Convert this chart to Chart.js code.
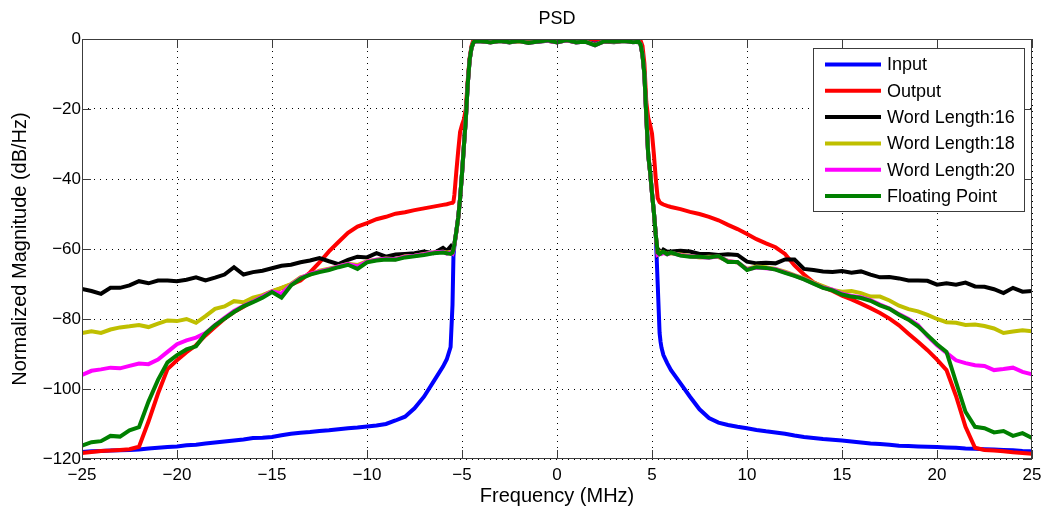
<!DOCTYPE html>
<html>
<head>
<meta charset="utf-8">
<title>PSD</title>
<script src="https://cdn.jsdelivr.net/npm/chart.js@4.4.1/dist/chart.umd.min.js"></script>
<style>
  html, body { margin: 0; padding: 0; background: #fff; }
  canvas { display: block; }
</style>
</head>
<body>
<canvas id="psdChart" width="1049" height="510"></canvas>
<script>
// PSD of the filter chain: input, output and the fixed point word lengths

// frequency grid (MHz): coarse in the stop bands, finer around the band edges
const freq = [
  -25, -24.5, -24, -23.5, -23, -22.5, -22, -21.5, -21, -20.5, -20, -19.5, -19, -18.5, -18, -17.5, -17, -16.5, -16, -15.5,
  -15, -14.5, -14, -13.5, -13, -12.5, -12, -11.5, -11, -10.5, -10, -9.5, -9, -8.5, -8, -7.5, -7, -6.5, -6,
  -5.8, -5.6, -5.5, -5.45, -5.4, -5.3, -5.2, -5.1, -5, -4.9, -4.8, -4.7, -4.6, -4.5, -4.4, -4.3,
  -4, -3.5, -3, -2.5, -2, -1.5, -1, -0.5, 0, 0.5, 1, 1.5, 2, 2.5, 3, 3.5, 4,
  4.3, 4.4, 4.5, 4.6, 4.7, 4.8, 4.9, 5, 5.1, 5.2, 5.3, 5.4, 5.45, 5.5, 5.6, 5.8,
  6, 6.5, 7, 7.5, 8, 8.5, 9, 9.5, 10, 10.5, 11, 11.5, 12, 12.5, 13, 13.5, 14, 14.5, 15, 15.5,
  16, 16.5, 17, 17.5, 18, 18.5, 19, 19.5, 20, 20.5, 21, 21.5, 22, 22.5, 23, 23.5, 24, 24.5, 25
];

// values in dB/Hz, same order as freq
const inputPsd = [
  -118.0, -117.8, -117.7, -117.6, -117.5, -117.4, -117.3, -117.0, -116.8, -116.6, -116.4, -116.1, -115.9, -115.6, -115.3, -115.0, -114.7, -114.4, -114.0, -113.9,
  -113.7, -113.2, -112.8, -112.5, -112.3, -112.0, -111.8, -111.5, -111.2, -111.0, -110.7, -110.4, -110.0, -109.0, -107.9, -105.5, -102.2, -97.9, -93.6,
  -91.5, -88.0, -76.0, -62.0, -59.0, -55.0, -51.0, -45.5, -38.5, -30.5, -23.0, -13.0, -6.0, -2.5, -1.0, -0.6,
  -0.5, -0.7, -0.6, -0.8, -0.5, -0.9, -0.6, -0.5, -0.8, -0.4, -0.7, -0.6, -1.2, -0.5, -0.7, -0.6, -0.8,
  -0.6, -1.5, -4.5, -10.0, -22.0, -33.0, -38.0, -44.0, -49.5, -56.0, -70.0, -84.0, -86.5, -88.2, -90.3, -92.6,
  -94.6, -98.4, -102.2, -105.8, -108.3, -109.6, -110.3, -110.8, -111.2, -111.7, -112.1, -112.4, -112.8, -113.3, -113.7, -114.0, -114.3, -114.5, -114.7, -115.0,
  -115.3, -115.6, -115.7, -115.9, -116.2, -116.3, -116.4, -116.5, -116.6, -116.7, -116.8, -117.0, -117.1, -117.2, -117.3, -117.4, -117.5, -117.7, -117.8
];
const outputPsd = [
  -118.3, -118.0, -117.7, -117.6, -117.4, -117.2, -116.5, -109.3, -101.3, -94.3, -91.8, -89.5, -87.5, -84.7, -82.3, -79.9, -78.0, -76.5, -74.7, -73.3,
  -72.2, -71.2, -70.2, -69.0, -66.7, -63.8, -60.7, -58.0, -55.4, -53.6, -52.6, -51.5, -50.8, -49.9, -49.5, -48.9, -48.4, -47.9, -47.4,
  -47.2, -46.9, -46.8, -46.5, -44.5, -38.0, -32.0, -26.5, -24.5, -23.0, -20.0, -12.0, -5.5, -2.0, -0.3, 0.3,
  0.3, 0.1, 0.4, 0.2, 0.3, 0.0, 0.4, 0.3, 0.1, 0.5, 0.2, 0.3, -0.2, 0.4, 0.2, 0.3, 0.1,
  0.3, -0.5, -2.0, -7.0, -18.0, -22.5, -24.5, -27.0, -33.0, -40.0, -45.5, -46.6, -46.8, -47.0, -47.3, -47.7,
  -48.0, -48.6, -49.4, -50.0, -50.8, -51.8, -53.1, -54.3, -55.7, -57.2, -58.4, -59.5, -61.4, -64.7, -67.3, -69.5, -70.9, -72.0, -73.3, -74.4,
  -75.6, -76.9, -78.3, -79.9, -81.8, -84.2, -86.5, -88.9, -91.6, -94.6, -102.0, -110.8, -116.8, -117.4, -117.6, -117.8, -118.1, -118.3, -118.5
];
const wl16Psd = [
  -71.4, -72.0, -72.8, -71.1, -71.1, -70.4, -69.2, -69.8, -69.0, -69.0, -69.2, -68.8, -68.1, -69.0, -68.2, -67.3, -65.2, -67.3, -66.6, -66.2,
  -65.5, -64.8, -64.5, -63.8, -63.3, -62.6, -63.5, -64.3, -63.1, -62.2, -62.4, -61.2, -62.2, -61.6, -61.4, -61.2, -60.7, -61.2, -59.7,
  -60.5, -59.3, -60.6, -60.0, -58.8, -55.2, -51.2, -45.6, -38.6, -30.6, -23.1, -13.1, -6.1, -2.6, -1.1, -0.7,
  -0.7, -0.9, -0.6, -1.0, -0.5, -1.0, -0.8, -0.5, -0.9, -0.4, -1.0, -0.7, -1.6, -0.7, -0.9, -0.6, -0.8,
  -0.9, -1.6, -4.6, -10.1, -22.1, -33.1, -38.1, -44.1, -49.6, -56.1, -61.3, -60.5, -60.8, -61.0, -60.2, -60.8,
  -60.7, -60.5, -60.7, -61.4, -61.4, -61.7, -61.5, -61.7, -63.6, -64.1, -63.9, -64.1, -63.0, -63.0, -65.7, -66.0, -66.4, -66.6, -66.3, -66.8,
  -66.4, -67.3, -68.1, -68.0, -68.4, -69.0, -69.0, -69.1, -70.2, -69.8, -70.2, -69.6, -70.7, -70.8, -71.5, -72.6, -71.1, -72.2, -72.0
];
const wl18Psd = [
  -84.0, -83.5, -84.0, -83.0, -82.4, -82.1, -81.7, -82.3, -81.3, -80.4, -80.6, -80.0, -81.1, -79.2, -77.1, -76.4, -74.9, -75.2, -73.9, -73.2,
  -72.0, -71.1, -70.0, -68.1, -67.3, -66.2, -65.6, -65.0, -64.2, -64.6, -63.5, -63.1, -62.7, -62.9, -62.1, -61.9, -61.4, -61.0, -60.8,
  -61.0, -60.8, -61.2, -60.2, -58.7, -55.1, -51.1, -45.5, -38.5, -30.5, -23.0, -13.0, -6.0, -2.5, -1.0, -0.6,
  -0.6, -0.9, -0.6, -0.8, -0.7, -1.0, -0.6, -0.5, -0.9, -0.4, -0.8, -0.7, -1.7, -0.6, -0.8, -0.6, -0.8,
  -0.8, -1.5, -4.5, -10.0, -22.0, -33.0, -38.0, -44.0, -49.5, -56.0, -61.5, -61.2, -61.0, -61.3, -61.0, -61.4,
  -61.2, -61.6, -62.0, -62.4, -62.2, -62.3, -63.4, -63.9, -65.7, -65.0, -65.2, -65.7, -66.5, -67.5, -68.4, -69.6, -70.6, -71.7, -72.2, -72.0,
  -72.6, -73.6, -73.6, -74.7, -76.2, -77.2, -77.8, -78.8, -80.0, -80.9, -81.1, -81.7, -81.6, -82.0, -82.7, -84.0, -83.6, -83.2, -83.5
];
const wl20Psd = [
  -96.0, -94.8, -94.4, -93.9, -94.1, -93.4, -92.7, -92.9, -91.6, -89.4, -87.2, -86.1, -85.3, -84.0, -81.7, -79.7, -77.7, -76.2, -75.0, -73.6,
  -72.1, -72.8, -70.2, -68.3, -67.1, -66.4, -65.8, -65.0, -64.3, -65.0, -63.6, -63.1, -62.8, -62.9, -62.2, -61.9, -61.5, -61.0, -60.8,
  -61.3, -61.0, -61.3, -60.3, -58.6, -55.0, -51.0, -45.5, -38.5, -30.5, -23.0, -13.0, -6.0, -2.5, -1.0, -0.6,
  -0.6, -1.0, -0.5, -0.9, -0.6, -1.1, -0.7, -0.5, -1.0, -0.4, -0.9, -0.8, -1.8, -0.6, -0.8, -0.5, -0.9,
  -0.8, -1.5, -4.5, -10.0, -22.0, -33.0, -38.0, -44.0, -49.5, -56.0, -61.6, -61.3, -61.2, -61.4, -61.1, -61.5,
  -61.1, -61.8, -62.1, -62.3, -62.5, -62.1, -63.5, -63.8, -65.8, -65.3, -65.5, -65.8, -66.7, -67.6, -68.6, -69.8, -71.0, -71.6, -72.8, -73.4,
  -73.8, -74.6, -75.9, -77.0, -78.6, -80.0, -81.7, -84.9, -87.5, -89.7, -91.8, -92.6, -93.2, -93.4, -94.6, -94.3, -93.9, -95.1, -95.8
];
const floatPsd = [
  -116.2, -115.2, -114.9, -113.4, -113.6, -111.8, -110.9, -103.6, -97.4, -92.4, -90.3, -88.7, -87.8, -84.2, -81.8, -79.9, -78.0, -76.4, -75.2, -73.9,
  -72.3, -73.9, -70.4, -68.5, -67.3, -66.6, -66.0, -65.2, -64.5, -65.7, -63.8, -63.3, -63.0, -63.1, -62.4, -62.1, -61.7, -61.2, -61.0,
  -61.2, -61.4, -61.0, -60.0, -58.5, -55.0, -51.0, -45.5, -38.5, -30.5, -23.0, -13.0, -6.0, -2.5, -1.0, -0.5,
  -0.6, -1.0, -0.5, -0.9, -0.6, -1.1, -0.7, -0.4, -1.0, -0.3, -0.9, -0.8, -1.8, -0.6, -0.8, -0.5, -0.9,
  -0.8, -1.5, -4.5, -10.0, -22.0, -33.0, -38.0, -44.0, -49.5, -56.0, -61.0, -61.5, -61.3, -61.0, -60.8, -61.5,
  -61.0, -61.9, -62.2, -62.2, -62.4, -62.0, -63.7, -63.7, -66.0, -65.2, -65.4, -65.9, -66.8, -67.7, -68.7, -69.9, -71.1, -71.8, -73.0, -73.6,
  -74.0, -74.8, -76.1, -77.1, -78.8, -80.2, -82.1, -84.6, -87.2, -89.4, -98.0, -106.5, -110.8, -111.2, -112.4, -112.0, -113.4, -112.6, -114.0
];

const xTickValues = [-25, -20, -15, -10, -5, 0, 5, 10, 15, 20, 25];
const yTickValues = [-120, -100, -80, -60, -40, -20, 0];

const seriesNames = ['Input', 'Output', 'Word Length:16', 'Word Length:18', 'Word Length:20', 'Floating Point'];
const seriesColors = ['#0000ff', '#ff0000', '#000000', '#bfbf00', '#ff00ff', '#008000'];
const seriesValues = [inputPsd, outputPsd, wl16Psd, wl18Psd, wl20Psd, floatPsd];

const FONT = "'Liberation Sans', Arial, Helvetica, sans-serif";
const minusSign = v => String(v).replace('-', '\u2212');

const datasets = seriesNames.map((name, i) => ({
  label: name,
  data: freq.map((f, k) => ({ x: f, y: seriesValues[i][k] })),
  borderColor: seriesColors[i],
  backgroundColor: seriesColors[i],
  borderWidth: 4,
  pointRadius: 0,
  tension: 0,
  clip: 0,
  // later series on top, as in the original plot
  order: seriesNames.length - i
}));

// box, inward ticks, title and legend drawn the matlab way
const axesFrame = {
  id: 'axesFrame',
  afterDraw(chart) {
    const { ctx, chartArea: a, scales: { x, y } } = chart;
    ctx.save();
    ctx.setLineDash([]);
    ctx.strokeStyle = '#3c3c3c';
    ctx.lineWidth = 1;
    ctx.strokeRect(a.left + 0.5, a.top + 0.5, a.right - a.left - 1, a.bottom - a.top - 1);

    const tl = 9;
    ctx.beginPath();
    xTickValues.forEach(v => {
      const px = Math.round(x.getPixelForValue(v)) + 0.5;
      ctx.moveTo(px, a.bottom); ctx.lineTo(px, a.bottom - tl);
      ctx.moveTo(px, a.top); ctx.lineTo(px, a.top + tl);
    });
    yTickValues.forEach(v => {
      const py = Math.round(y.getPixelForValue(v)) + 0.5;
      ctx.moveTo(a.left, py); ctx.lineTo(a.left + tl, py);
      ctx.moveTo(a.right, py); ctx.lineTo(a.right - tl, py);
    });
    ctx.stroke();

    // title
    ctx.fillStyle = '#000';
    ctx.font = '18px ' + FONT;
    ctx.textAlign = 'center';
    ctx.textBaseline = 'middle';
    ctx.fillText('PSD', (a.left + a.right) / 2, 19);

    // legend box in the upper right corner
    const lw = 211, lh = 163;
    const lx = a.right - 8 - lw, ly = a.top + 9;
    ctx.fillStyle = '#fff';
    ctx.fillRect(lx, ly, lw, lh);
    ctx.strokeStyle = '#3c3c3c';
    ctx.strokeRect(lx + 0.5, ly + 0.5, lw, lh);
    ctx.font = '18px ' + FONT;
    ctx.textAlign = 'left';
    const rowH = 26.3;
    seriesNames.forEach((name, i) => {
      const ry = ly + 16.5 + i * rowH;
      ctx.strokeStyle = seriesColors[i];
      ctx.lineWidth = 4;
      ctx.beginPath();
      ctx.moveTo(lx + 12, ry);
      ctx.lineTo(lx + 68, ry);
      ctx.stroke();
      ctx.fillStyle = '#000';
      ctx.fillText(name, lx + 74, ry + 1);
    });
    ctx.restore();
  }
};

new Chart(document.getElementById('psdChart'), {
  type: 'line',
  data: { datasets },
  options: {
    responsive: false,
    animation: false,
    devicePixelRatio: 1,
    layout: { padding: { left: 0, top: 39, right: 17, bottom: 0 } },
    plugins: {
      legend: { display: false },
      tooltip: { enabled: false }
    },
    scales: {
      x: {
        type: 'linear',
        min: -25,
        max: 25,
        afterBuildTicks: scale => { scale.ticks = xTickValues.map(v => ({ value: v })); },
        afterFit: scale => { scale.height = 51; },
        grid: { color: '#000', lineWidth: 1, drawTicks: false },
        border: { display: false, dash: [1, 5] },
        ticks: {
          padding: 6,
          maxRotation: 0,
          color: '#000',
          font: { family: FONT, size: 17 },
          callback: v => minusSign(v)
        },
        title: {
          display: true,
          text: 'Frequency (MHz)',
          color: '#000',
          font: { family: FONT, size: 20, lineHeight: 1.2 },
          padding: { top: 0, bottom: 2 }
        }
      },
      y: {
        min: -120,
        max: 0,
        afterBuildTicks: scale => { scale.ticks = yTickValues.map(v => ({ value: v })); },
        afterFit: scale => { scale.width = 82; },
        grid: { color: '#000', lineWidth: 1, drawTicks: false },
        border: { display: false, dash: [1, 5] },
        ticks: {
          padding: 1,
          color: '#000',
          font: { family: FONT, size: 17 },
          callback: v => minusSign(v)
        },
        title: {
          display: true,
          text: 'Normalized Magnitude (dB/Hz)',
          color: '#000',
          font: { family: FONT, size: 20 },
          padding: { top: 8, bottom: 0 }
        }
      }
    }
  },
  plugins: [axesFrame]
});
</script>
</body>
</html>
